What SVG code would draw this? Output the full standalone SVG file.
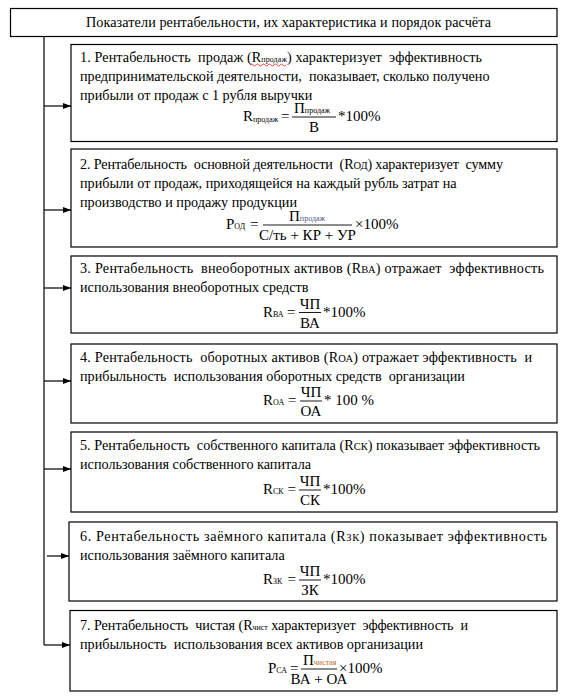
<svg xmlns="http://www.w3.org/2000/svg" width="579" height="696" viewBox="0 0 579 696">
<defs>
<style>
.box{fill:#fff;stroke:#000;stroke-width:1.2}
.t{font-family:"Liberation Serif","Times New Roman",serif;font-size:14.2px;fill:#000;white-space:pre}
.f{font-family:"Liberation Serif","Times New Roman",serif;font-size:15px;fill:#000}
.sub{font-size:8px}
.sc{font-size:10.5px}
.ln{stroke:#000;stroke-width:1.2;fill:none}
.bar{stroke:#000;stroke-width:0.9}
.wavy{fill:none;stroke:#e02020;stroke-width:0.8}
</style>
<marker id="ah" markerWidth="8" markerHeight="6" refX="8" refY="3" orient="auto" markerUnits="userSpaceOnUse">
<path d="M0,0 L8,3 L0,6 Z" fill="#000"/>
</marker>
</defs>
<rect width="579" height="696" fill="#fff"/>

<g id="title">
<rect class="box" x="10.5" y="8.5" width="546.5" height="28"/>
<text class="t" x="86" y="27" textLength="405" lengthAdjust="spacing">Показатели рентабельности, их характеристика и порядок расчёта</text>
</g>

<g id="connectors">
<path class="ln" d="M44,36.5 V645"/>
<line class="ln" x1="44" y1="106" x2="71" y2="106" marker-end="url(#ah)"/>
<line class="ln" x1="44" y1="210" x2="71" y2="210" marker-end="url(#ah)"/>
<line class="ln" x1="44" y1="288" x2="71" y2="288" marker-end="url(#ah)"/>
<line class="ln" x1="44" y1="381" x2="71" y2="381" marker-end="url(#ah)"/>
<line class="ln" x1="44" y1="469" x2="71" y2="469" marker-end="url(#ah)"/>
<line class="ln" x1="47" y1="556" x2="69" y2="556" marker-end="url(#ah)"/>
<line class="ln" x1="44" y1="645" x2="70" y2="645" marker-end="url(#ah)"/>
</g>

<g id="n1">
<rect class="box" x="71" y="44.5" width="486" height="97"/>
<text class="t" x="80" y="62" textLength="402" lengthAdjust="spacing">1. Рентабельность  продаж (R<tspan class="sub">продаж</tspan>) характеризует  эффективность</text>
<path class="wavy" d="M250,65 q1.5,-2 3,0 t3,0 t3,0 t3,0 t3,0 t3,0 t3,0 t3,0 t3,0 t3,0 t3,0 t3,0"/>
<text class="t" x="80" y="81">предпринимательской деятельности,  показывает, сколько получено</text>
<text class="t" x="80" y="100">прибыли от продаж с 1 рубля выручки</text>
<text class="f" x="243" y="121">R<tspan class="sub" dy="1">продаж</tspan></text>
<text class="f" x="281" y="121">=</text>
<line class="bar" x1="292" y1="117" x2="336" y2="117"/>
<text class="f" x="294" y="113">П<tspan class="sub">продаж</tspan></text>
<text class="f" x="314" y="132" text-anchor="middle">В</text>
<text class="f" x="338" y="121">*100%</text>
</g>

<g id="n2">
<rect class="box" x="71" y="149" width="486" height="98"/>
<text class="t" x="80" y="169" textLength="423" lengthAdjust="spacing">2. Рентабельность  основной деятельности  (R<tspan class="sc">ОД</tspan>) характеризует  сумму</text>
<text class="t" x="80" y="188">прибыли от продаж, приходящейся на каждый рубль затрат на</text>
<text class="t" x="80" y="207">производство и продажу продукции</text>
<text class="f" x="226" y="229">Р<tspan class="sub">ОД</tspan></text>
<text class="f" x="250" y="229">=</text>
<line class="bar" x1="263" y1="225" x2="352" y2="225"/>
<text class="f" x="289" y="221">П<tspan class="sub" fill="#4a5a8a">продаж</tspan></text>
<text class="f" x="307.5" y="240" text-anchor="middle">С/ть  + КР + УР</text>
<text class="f" x="355" y="229">×100%</text>
</g>

<g id="n3">
<rect class="box" x="71" y="256" width="486" height="77"/>
<text class="t" x="80" y="273" textLength="464" lengthAdjust="spacing">3. Рентабельность  внеоборотных активов (R<tspan class="sc">ВА</tspan>) отражает  эффективность</text>
<text class="t" x="80" y="292">использования внеоборотных средств</text>
<text class="f" x="263" y="317">R<tspan class="sub">ВА</tspan></text>
<text class="f" x="287" y="317">=</text>
<line class="bar" x1="299" y1="312.5" x2="321" y2="312.5"/>
<text class="f" x="310" y="308.5" text-anchor="middle">ЧП</text>
<text class="f" x="310" y="327.5" text-anchor="middle">ВА</text>
<text class="f" x="323" y="317">*100%</text>
</g>

<g id="n4">
<rect class="box" x="71" y="344" width="486" height="79"/>
<text class="t" x="80" y="362" textLength="452" lengthAdjust="spacing">4. Рентабельность  оборотных активов (R<tspan class="sc">ОА</tspan>) отражает эффективность  и</text>
<text class="t" x="80" y="381">прибыльность  использования оборотных средств  организации</text>
<text class="f" x="263" y="405">R<tspan class="sub">ОА</tspan></text>
<text class="f" x="288" y="405">=</text>
<line class="bar" x1="300" y1="401" x2="322" y2="401"/>
<text class="f" x="311" y="397" text-anchor="middle">ЧП</text>
<text class="f" x="311" y="416" text-anchor="middle">ОА</text>
<text class="f" x="324" y="405">* 100 %</text>
</g>

<g id="n5">
<rect class="box" x="71" y="432" width="486" height="80"/>
<text class="t" x="80" y="450" textLength="460" lengthAdjust="spacing">5. Рентабельность  собственного капитала (R<tspan class="sc">СК</tspan>) показывает эффективность</text>
<text class="t" x="80" y="469">использования собственного капитала</text>
<text class="f" x="263" y="494">R<tspan class="sub">СК</tspan></text>
<text class="f" x="287.5" y="494">=</text>
<line class="bar" x1="299" y1="490" x2="321" y2="490"/>
<text class="f" x="310" y="486" text-anchor="middle">ЧП</text>
<text class="f" x="310" y="505" text-anchor="middle">СК</text>
<text class="f" x="323" y="494">*100%</text>
</g>

<g id="n6">
<rect class="box" x="69" y="522" width="488" height="79"/>
<text class="t" x="80" y="541" textLength="467" lengthAdjust="spacing">6. Рентабельность заёмного капитала (R<tspan class="sc">ЗК</tspan>) показывает эффективность</text>
<text class="t" x="80" y="560">использования заёмного капитала</text>
<text class="f" x="263" y="584">R<tspan class="sub">ЗК</tspan></text>
<text class="f" x="287.5" y="584">=</text>
<line class="bar" x1="299" y1="580" x2="321" y2="580"/>
<text class="f" x="310" y="576" text-anchor="middle">ЧП</text>
<text class="f" x="310" y="595" text-anchor="middle">ЗК</text>
<text class="f" x="323" y="584">*100%</text>
</g>

<g id="n7">
<rect class="box" x="70" y="610.5" width="487" height="80.5"/>
<text class="t" x="80" y="630" textLength="388" lengthAdjust="spacing">7. Рентабельность  чистая (R<tspan class="sub">чист</tspan> характеризует  эффективность  и</text>
<text class="t" x="80" y="649">прибыльность  использования всех активов организации</text>
<text class="f" x="268" y="673">Р<tspan class="sub">СА</tspan></text>
<text class="f" x="290" y="673">=</text>
<line class="bar" x1="301" y1="669" x2="337" y2="669"/>
<text class="f" x="303" y="665">П<tspan class="sub" fill="#c06a2a">чистая</tspan></text>
<text class="f" x="319" y="684" text-anchor="middle">ВА  + ОА</text>
<text class="f" x="339" y="673">×100%</text>
</g>
</svg>
